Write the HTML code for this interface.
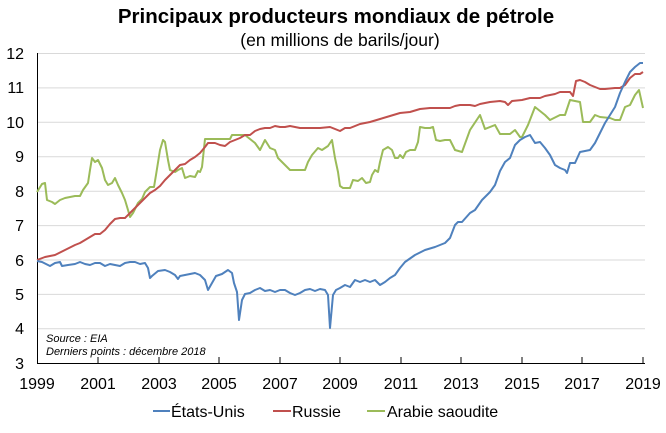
<!DOCTYPE html>
<html><head><meta charset="utf-8"><style>
body{margin:0;background:#fff;}
svg{display:block;font-family:"Liberation Sans",Arial,sans-serif;}
</style></head><body>
<svg width="666" height="433" viewBox="0 0 666 433">
<text x="336" y="23" text-anchor="middle" font-size="20.5" font-weight="bold">Principaux producteurs mondiaux de pétrole</text>
<text x="340" y="46" text-anchor="middle" font-size="17.5">(en millions de barils/jour)</text>
<g stroke="#d9d9d9" stroke-width="1">
<line x1="37" x2="645" y1="53.5" y2="53.5"/><line x1="37" x2="645" y1="87.9" y2="87.9"/>
<line x1="37" x2="645" y1="122.3" y2="122.3"/><line x1="37" x2="645" y1="156.8" y2="156.8"/>
<line x1="37" x2="645" y1="191.2" y2="191.2"/><line x1="37" x2="645" y1="225.6" y2="225.6"/>
<line x1="37" x2="645" y1="260" y2="260"/><line x1="37" x2="645" y1="294.4" y2="294.4"/>
<line x1="37" x2="645" y1="328.8" y2="328.8"/>
</g>
<g stroke="#000" stroke-width="1">
<line x1="37.5" x2="37.5" y1="53" y2="363"/>
<line x1="37" x2="645" y1="363.5" y2="363.5"/>
<line x1="37.5" x2="37.5" y1="357" y2="363"/><line x1="98" x2="98" y1="357" y2="363"/>
<line x1="159" x2="159" y1="357" y2="363"/><line x1="219" x2="219" y1="357" y2="363"/>
<line x1="280" x2="280" y1="357" y2="363"/><line x1="340" x2="340" y1="357" y2="363"/>
<line x1="401" x2="401" y1="357" y2="363"/><line x1="461" x2="461" y1="357" y2="363"/>
<line x1="522" x2="522" y1="357" y2="363"/><line x1="582" x2="582" y1="357" y2="363"/>
<line x1="643" x2="643" y1="357" y2="363"/>
</g>
<g font-size="16" text-anchor="end">
<text x="24" y="59">12</text><text x="24" y="93">11</text><text x="24" y="128">10</text>
<text x="24" y="162">9</text><text x="24" y="197">8</text><text x="24" y="231">7</text>
<text x="24" y="266">6</text><text x="24" y="300">5</text><text x="24" y="334">4</text>
<text x="24" y="369">3</text>
</g>
<g font-size="16" text-anchor="middle">
<text x="37" y="389">1999</text><text x="98" y="389">2001</text><text x="159" y="389">2003</text>
<text x="219" y="389">2005</text><text x="280" y="389">2007</text><text x="340" y="389">2009</text>
<text x="401" y="389">2011</text><text x="461" y="389">2013</text><text x="522" y="389">2015</text>
<text x="582" y="389">2017</text><text x="643" y="389">2019</text>
</g>
<g font-size="11" font-style="italic">
<text x="46" y="342">Source :  EIA</text>
<text x="46" y="355">Derniers points : décembre 2018</text>
</g>
<g fill="none" stroke-width="2" stroke-linejoin="round">
<polyline stroke="#9bbb59" points="37,192 42,184 45,183 47,200 52,202 55,204 60,200 65,198 70,197 75,196 80,196 83,190 88,183 90,170 92,158 95,162 98,160 102,168 105,180 108,185 112,183 115,178 118,185 122,193 125,200 128,210 130,217 133,213 138,203 142,199 145,192 150,187 154,187 156,175 160,150 163,140 165,142 168,160 170,170 175,172 178,170 182,168 185,178 190,176 195,177 198,171 200,172 202,167 205,139 230,139 232,135 245,135 250,139 255,143 260,150 265,140 270,148 275,150 278,158 282,162 285,165 290,170 300,170 305,170 308,162 312,155 318,148 322,150 328,146 332,140 335,158 338,172 340,186 343,188 350,188 353,180 358,181 362,178 366,183 370,182 372,175 375,170 378,172 380,162 383,150 388,147 392,150 395,158 398,158 400,155 403,158 406,152 410,150 415,150 418,142 420,127 425,128 430,128 433,127 436,140 440,141 445,140 450,140 455,150 462,152 470,130 480,115 485,129 495,125 500,134 510,134 515,130 520,137 522,137 528,125 535,107 545,115 550,120 560,115 565,115 570,100 580,102 583,122 590,122 595,115 600,117 610,118 615,120 620,120 625,107 630,105 635,95 639,90 643,108"/>
<polyline stroke="#c0504d" points="37,260 45,257 55,255 65,250 75,245 80,243 90,237 95,234 100,234 105,230 110,224 115,219 120,218 125,218 130,213 138,205 145,198 150,193 155,190 160,186 165,180 170,175 175,170 180,165 185,164 190,160 195,157 200,153 205,147 208,143 215,143 220,145 225,146 230,142 240,138 245,135 250,135 255,131 260,129 265,128 270,128 275,126 280,127 285,127 290,126 300,128 310,128 320,128 330,127 340,131 345,128 350,128 360,124 370,122 380,119 390,116 400,113 410,112 420,109 430,108 440,108 450,108 455,106 460,105 470,105 475,106 480,104 490,102 500,101 505,102 508,105 512,101 522,100 530,98 540,98 545,96 555,94 560,92 565,92 570,92 573,96 576,81 580,80 585,82 590,85 595,87 600,89 605,89 615,88 620,88 625,85 630,78 635,74 640,74 643,72"/>
<polyline stroke="#4f81bd" points="37,261 42,262 50,266 55,263 60,262 62,266 68,265 75,264 80,262 85,264 90,265 95,263 100,263 105,266 110,264 115,265 120,266 125,263 130,262 135,262 140,264 145,263 148,268 150,278 152,276 158,271 165,270 170,272 175,275 178,279 180,276 185,275 190,274 195,273 200,275 205,280 208,290 212,283 216,276 222,274 228,270 232,273 234,283 237,292 239,320 242,300 245,294 250,293 255,290 260,288 265,291 270,290 275,292 280,290 285,290 290,293 295,295 300,293 305,290 310,289 315,291 320,289 325,290 328,295 330,328 333,295 336,290 340,288 345,285 350,287 355,280 360,282 365,280 370,282 375,280 380,285 385,282 390,278 395,275 400,268 405,262 415,255 425,250 435,247 440,245 445,243 450,238 455,225 458,222 462,222 470,213 475,210 482,200 490,192 495,185 500,171 505,162 510,158 515,145 520,140 525,137 530,135 535,143 540,142 545,148 550,155 555,165 560,168 565,170 567,173 570,163 575,163 580,152 585,151 590,150 595,143 600,133 605,123 610,115 615,107 620,93 625,82 630,72 635,67 640,63 643,63"/>
</g>
<g stroke-width="2">
<line x1="153" x2="170" y1="411" y2="411" stroke="#4f81bd"/>
<line x1="273" x2="291" y1="411" y2="411" stroke="#c0504d"/>
<line x1="367" x2="385" y1="411" y2="411" stroke="#9bbb59"/>
</g>
<g font-size="16">
<text x="171" y="417">États-Unis</text>
<text x="292" y="417">Russie</text>
<text x="387" y="417">Arabie saoudite</text>
</g>
</svg>
</body></html>
